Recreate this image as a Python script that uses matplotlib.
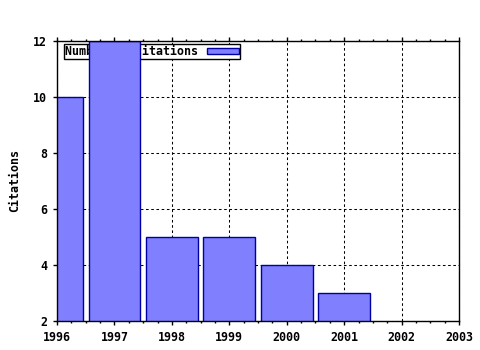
import matplotlib
matplotlib.use("Agg")
import matplotlib.pyplot as plt
from matplotlib.ticker import MultipleLocator

years = [1996, 1997, 1998, 1999, 2000, 2001]
citations = [10, 12, 5, 5, 4, 3]
xticks = [1996, 1997, 1998, 1999, 2000, 2001, 2002, 2003]
yticks = [2, 4, 6, 8, 10, 12]
legend_label = "Number of citations"
ylabel = "Citations"

plt.rcParams['font.family'] = ['DejaVu Sans Mono']
plt.rcParams['font.weight'] = 'bold'
fs = 8.4

fig = plt.figure(figsize=(4.8, 3.5), dpi=100)
ax = fig.add_axes([57/480, 1-321/350, 402/480, 280/350])
ax.set_axisbelow(True)

bars = ax.bar(years, citations, width=0.9, color='#8080ff', edgecolor='#0000a0',
              linewidth=1.0, label=legend_label, zorder=2)

ax.set_xlim(1996, 2003)
ax.set_ylim(2, 12)
ax.set_xticks(xticks)
ax.set_yticks(yticks)
ax.set_xticklabels([str(v) for v in xticks], fontsize=fs, fontweight='bold')
ax.set_yticklabels([str(v) for v in yticks], fontsize=fs, fontweight='bold')
ax.xaxis.set_minor_locator(MultipleLocator(0.25))
ax.tick_params(axis='x', which='major', direction='out', length=3, width=1,
               top=True, bottom=True, pad=4)
ax.tick_params(axis='x', which='minor', direction='out', length=1.2, width=1,
               top=True, bottom=True)
ax.tick_params(axis='y', which='major', direction='out', length=3, width=1,
               left=True, right=False, pad=4)
ax.grid(True, which='major', color='black', linestyle=(0, (2.5, 2.5)), linewidth=0.75)
for s in ax.spines.values():
    s.set_linewidth(1.0)
    s.set_color('black')

ax.set_ylabel(ylabel, fontsize=fs, fontweight='bold', labelpad=9)

leg = ax.legend(loc='upper left', bbox_to_anchor=(7/402, 1-3/280), borderaxespad=0,
                fancybox=False, edgecolor='black', framealpha=1, markerfirst=False,
                prop={'size': fs, 'weight': 'bold', 'family': 'DejaVu Sans Mono'},
                handlelength=2.7, handleheight=0.45, handletextpad=0.8,
                borderpad=0.08)
leg.get_frame().set_linewidth(1.0)
leg.set_zorder(1)

fig.savefig("out.png", dpi=100)
